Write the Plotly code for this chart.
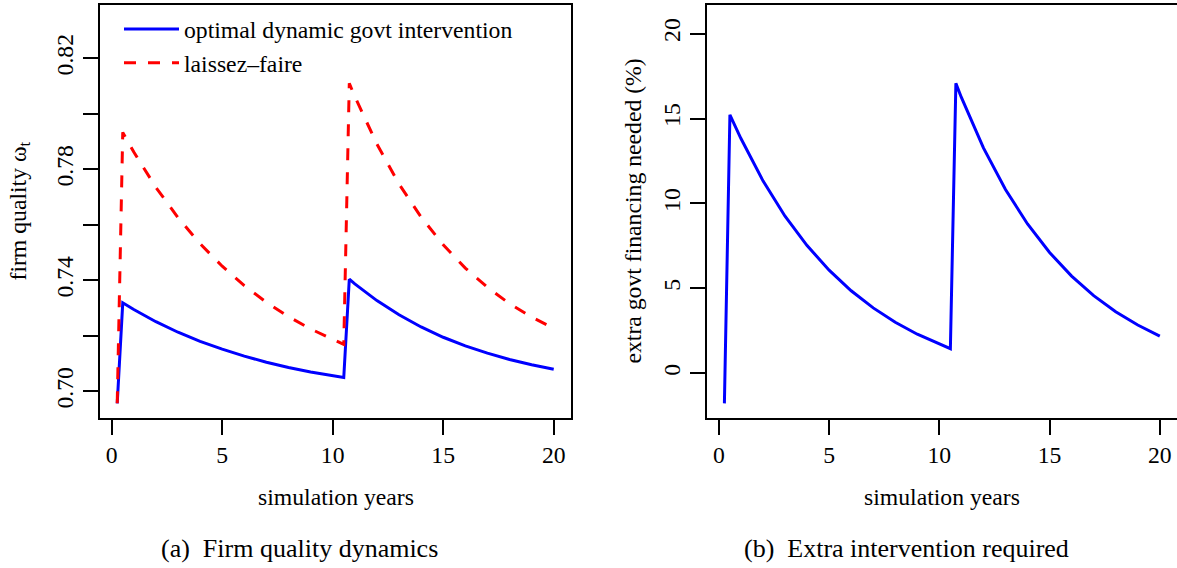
import plotly.graph_objects as go

# ---- data ----
years = [0.25, 0.5, 1, 2, 3, 4, 5, 6, 7, 8, 9, 10, 10.5,
         10.75, 11, 12, 13, 14, 15, 16, 17, 18, 19, 20]
optimal = [0.6957, 0.7319, 0.7295, 0.7251, 0.7213, 0.7180, 0.7152, 0.7127,
           0.7105, 0.7086, 0.7070, 0.7056, 0.7050,
           0.7404, 0.7387, 0.7327, 0.7276, 0.7232, 0.7195, 0.7164, 0.7138,
           0.7115, 0.7096, 0.7080]
laissez_faire = [0.6957, 0.7933, 0.7862, 0.7735, 0.7626, 0.7532, 0.7451, 0.7381,
                 0.7321, 0.7269, 0.7225, 0.7186, 0.7169,
                 0.8110, 0.8062, 0.7891, 0.7747, 0.7628, 0.7528, 0.7444, 0.7375,
                 0.7316, 0.7268, 0.7227]
extra_financing = [-1.77, 15.22, 13.82, 11.33, 9.25, 7.52, 6.07, 4.86, 3.85,
                   3.00, 2.30, 1.71, 1.45,
                   17.07, 16.24, 13.27, 10.82, 8.79, 7.11, 5.72, 4.57, 3.62,
                   2.84, 2.19]

x_ticks = [0, 5, 10, 15, 20]
left_y_ticks = [0.70, 0.74, 0.78, 0.82]
left_y_text = ["0.70", "0.74", "0.78", "0.82"]
left_y_minor = [0.72, 0.76, 0.80]
right_y_ticks = [0, 5, 10, 15, 20]
right_y_text = ["0", "5", "10", "15", "20"]

W, H = 1177, 568
FONT = "Liberation Serif"
FS = 23.7


def px(x):
    return x / W


def py(y):
    return (H - y) / H


fig = go.Figure()
fig.add_trace(go.Scatter(x=years, y=optimal, mode="lines",
                         name="optimal dynamic govt intervention",
                         line=dict(color="#0000FF", width=3),
                         xaxis="x", yaxis="y"))
fig.add_trace(go.Scatter(x=years, y=laissez_faire, mode="lines",
                         name="laissez\u2013faire",
                         line=dict(color="#FF0000", width=3, dash="12px,12px"),
                         xaxis="x", yaxis="y"))
fig.add_trace(go.Scatter(x=years, y=extra_financing, mode="lines",
                         showlegend=False,
                         line=dict(color="#0000FF", width=3),
                         xaxis="x2", yaxis="y2"))

ax_common = dict(showgrid=False, zeroline=False, showline=True,
                 linecolor="black", linewidth=1.5, ticks="outside", ticklen=15,
                 tickwidth=1.5, tickcolor="black",
                 tickfont=dict(family=FONT, size=FS, color="black"))

fig.update_layout(
    width=W, height=H, autosize=False,
    margin=dict(l=0, r=0, t=0, b=0),
    paper_bgcolor="white", plot_bgcolor="white",
    font=dict(family=FONT, size=FS, color="black"),
    xaxis=dict(domain=[px(99.5), px(571.4)], range=[-0.552, 20.80],
               tickvals=x_ticks, ticktext=[str(v) for v in x_ticks],
               anchor="y", mirror=True, **ax_common),
    yaxis=dict(domain=[py(418.3), py(4.7)], range=[0.6903, 0.8393],
               tickvals=left_y_ticks, ticktext=left_y_text, tickangle=-90,
               minor=dict(tickvals=left_y_minor, ticks="outside", ticklen=15,
                          tickwidth=1.5, tickcolor="black", showgrid=False),
               anchor="x", mirror=True, **ax_common),
    xaxis2=dict(domain=[px(706.7), 1.0], range=[-0.553, 20.78],
                tickvals=x_ticks, ticktext=[str(v) for v in x_ticks],
                anchor="y2", mirror=True, **ax_common),
    yaxis2=dict(domain=[py(418.3), py(4.7)], range=[-2.65, 21.70],
                tickvals=right_y_ticks, ticktext=right_y_text, tickangle=-90,
                anchor="x2", mirror=False, **ax_common),
    legend=dict(x=px(119), y=py(7), xanchor="left", yanchor="top",
                bgcolor="rgba(0,0,0,0)", borderwidth=0,
                font=dict(family=FONT, size=FS, color="black"),
                itemwidth=55, tracegroupgap=0),
    showlegend=True,
)

annots = [
    dict(text="simulation years", x=px(335.5), y=py(497)),
    dict(text="simulation years", x=px(942.3), y=py(497)),
    dict(text="firm quality \u03c9<sub>t</sub>", x=px(19), y=py(211.5), textangle=-90),
    dict(text="extra govt financing needed (%)", x=px(632), y=py(211.5), textangle=-90),
    dict(text="(a)\u00a0 Firm quality dynamics", x=px(299), y=py(548),
         font=dict(family=FONT, size=26, color="black")),
    dict(text="(b)\u00a0 Extra intervention required", x=px(906.6), y=py(548),
         font=dict(family=FONT, size=26, color="black")),
]
for a in annots:
    base = dict(xref="paper", yref="paper", showarrow=False,
                xanchor="center", yanchor="middle",
                font=dict(family=FONT, size=FS, color="black"))
    base.update(a)
    fig.add_annotation(**base)

fig.write_html("out.html",
               config={"displayModeBar": False},
               post_script="document.body.style.margin='0';document.body.style.overflow='hidden';")
